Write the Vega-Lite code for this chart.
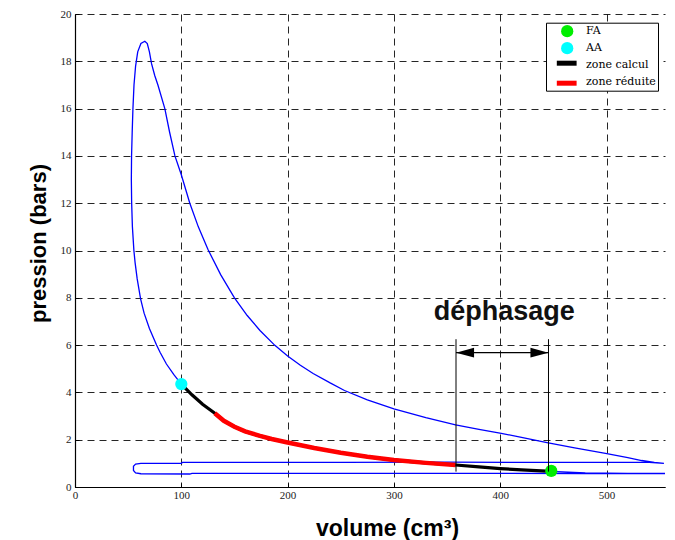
{
  "$schema": "https://vega.github.io/schema/vega-lite/v6.json",
  "autosize": {"type": "none"},
  "width": 590,
  "height": 473,
  "padding": {"left": 75, "top": 14, "right": 10, "bottom": 53},
  "background": "white",
  "config": {
    "view": {"stroke": null},
    "axis": {
      "grid": true,
      "gridDash": [7, 5],
      "gridColor": "#000000",
      "gridOpacity": 0.85,
      "gridWidth": 1,
      "domainColor": "#000000",
      "domainWidth": 1.2,
      "tickColor": "#000000",
      "tickSize": -4,
      "labelFont": "Liberation Serif",
      "labelFontSize": 11,
      "labelColor": "#222222",
      "labelFlush": false,
      "titleFont": "Liberation Sans",
      "titleFontWeight": "bold",
      "titleColor": "#000000"
    },
    "legend": {
      "labelFont": "DejaVu Serif", "labelFontSize": 11, "labelColor": "#000000", "symbolOpacity": 1
    }
  },
  "datasets": {
    "cycle": [
      {"i": 1, "v": 554, "p": 1.0}, {"i": 2, "v": 540, "p": 1.04}, {"i": 3, "v": 450, "p": 1.04}, {"i": 4, "v": 350, "p": 1.05},
      {"i": 5, "v": 250, "p": 1.04}, {"i": 6, "v": 150, "p": 1.04}, {"i": 7, "v": 101, "p": 1.04}, {"i": 8, "v": 100, "p": 1.0},
      {"i": 9, "v": 62, "p": 1.0}, {"i": 10, "v": 57, "p": 0.97}, {"i": 11, "v": 55, "p": 0.88}, {"i": 12, "v": 55, "p": 0.7},
      {"i": 13, "v": 57, "p": 0.6}, {"i": 14, "v": 62, "p": 0.56}, {"i": 15, "v": 108, "p": 0.55}, {"i": 16, "v": 110, "p": 0.58},
      {"i": 17, "v": 200, "p": 0.58}, {"i": 18, "v": 300, "p": 0.58}, {"i": 19, "v": 400, "p": 0.58}, {"i": 20, "v": 480, "p": 0.57},
      {"i": 21, "v": 555, "p": 0.57}, {"i": 22, "v": 520, "p": 0.58}, {"i": 23, "v": 480, "p": 0.6}, {"i": 24, "v": 448, "p": 0.66},
      {"i": 25, "v": 420, "p": 0.72}, {"i": 26, "v": 400, "p": 0.78}, {"i": 27, "v": 380, "p": 0.85}, {"i": 28, "v": 358, "p": 0.93},
      {"i": 29, "v": 330, "p": 1.02}, {"i": 30, "v": 300, "p": 1.14}, {"i": 31, "v": 275, "p": 1.28}, {"i": 32, "v": 250, "p": 1.45},
      {"i": 33, "v": 225, "p": 1.65}, {"i": 34, "v": 200, "p": 1.88}, {"i": 35, "v": 185, "p": 2.03}, {"i": 36, "v": 174, "p": 2.16},
      {"i": 37, "v": 160, "p": 2.35}, {"i": 38, "v": 150, "p": 2.55}, {"i": 39, "v": 140, "p": 2.8}, {"i": 40, "v": 131.5, "p": 3.12},
      {"i": 41, "v": 120, "p": 3.5}, {"i": 42, "v": 110, "p": 3.9}, {"i": 43, "v": 100, "p": 4.35}, {"i": 44, "v": 93, "p": 4.75},
      {"i": 45, "v": 86, "p": 5.2}, {"i": 46, "v": 80, "p": 5.7}, {"i": 47, "v": 76.7, "p": 6.0}, {"i": 48, "v": 70, "p": 6.7},
      {"i": 49, "v": 65, "p": 7.35}, {"i": 50, "v": 61.7, "p": 7.95}, {"i": 51, "v": 58.5, "p": 8.8}, {"i": 52, "v": 56.5, "p": 9.5},
      {"i": 53, "v": 55.4, "p": 10}, {"i": 54, "v": 54, "p": 11}, {"i": 55, "v": 53.3, "p": 12}, {"i": 56, "v": 53, "p": 13},
      {"i": 57, "v": 53.2, "p": 14}, {"i": 58, "v": 53.8, "p": 15}, {"i": 59, "v": 54.5, "p": 16}, {"i": 60, "v": 55.5, "p": 17},
      {"i": 61, "v": 57, "p": 17.8}, {"i": 62, "v": 59, "p": 18.4}, {"i": 63, "v": 62, "p": 18.75}, {"i": 64, "v": 65.7, "p": 18.85},
      {"i": 65, "v": 68, "p": 18.75}, {"i": 66, "v": 70, "p": 18.4}, {"i": 67, "v": 72, "p": 17.9}, {"i": 68, "v": 75, "p": 17.4},
      {"i": 69, "v": 78, "p": 17.0}, {"i": 70, "v": 84.5, "p": 16}, {"i": 71, "v": 89, "p": 15}, {"i": 72, "v": 94, "p": 14},
      {"i": 73, "v": 100, "p": 13.2}, {"i": 74, "v": 108, "p": 12}, {"i": 75, "v": 116, "p": 11}, {"i": 76, "v": 125, "p": 10.05},
      {"i": 77, "v": 137, "p": 8.98}, {"i": 78, "v": 150, "p": 8.0}, {"i": 79, "v": 162, "p": 7.25}, {"i": 80, "v": 174, "p": 6.62},
      {"i": 81, "v": 188, "p": 5.99}, {"i": 82, "v": 200, "p": 5.54}, {"i": 83, "v": 212, "p": 5.15}, {"i": 84, "v": 224, "p": 4.8},
      {"i": 85, "v": 240, "p": 4.4}, {"i": 86, "v": 253.5, "p": 4.08}, {"i": 87, "v": 275, "p": 3.68}, {"i": 88, "v": 300, "p": 3.3},
      {"i": 89, "v": 330, "p": 2.93}, {"i": 90, "v": 358, "p": 2.63}, {"i": 91, "v": 380, "p": 2.44}, {"i": 92, "v": 401, "p": 2.27},
      {"i": 93, "v": 420, "p": 2.1}, {"i": 94, "v": 444, "p": 1.88}, {"i": 95, "v": 470, "p": 1.65}, {"i": 96, "v": 499, "p": 1.42},
      {"i": 97, "v": 520, "p": 1.24}, {"i": 98, "v": 533, "p": 1.12}, {"i": 99, "v": 545, "p": 1.04}, {"i": 100, "v": 554, "p": 1.0}
    ],
    "calcul": [
      {"s": "zone calcul", "i": 1, "v": 448, "p": 0.66}, {"s": "zone calcul", "i": 2, "v": 420, "p": 0.72},
      {"s": "zone calcul", "i": 3, "v": 400, "p": 0.78}, {"s": "zone calcul", "i": 4, "v": 380, "p": 0.85},
      {"s": "zone calcul", "i": 5, "v": 358, "p": 0.93}, {"s": "zone calcul", "i": 6, "v": 330, "p": 1.02},
      {"s": "zone calcul", "i": 7, "v": 300, "p": 1.14}, {"s": "zone calcul", "i": 8, "v": 275, "p": 1.28},
      {"s": "zone calcul", "i": 9, "v": 250, "p": 1.45}, {"s": "zone calcul", "i": 10, "v": 225, "p": 1.65},
      {"s": "zone calcul", "i": 11, "v": 200, "p": 1.88}, {"s": "zone calcul", "i": 12, "v": 185, "p": 2.03},
      {"s": "zone calcul", "i": 13, "v": 174, "p": 2.16}, {"s": "zone calcul", "i": 14, "v": 160, "p": 2.35},
      {"s": "zone calcul", "i": 15, "v": 150, "p": 2.55}, {"s": "zone calcul", "i": 16, "v": 140, "p": 2.8},
      {"s": "zone calcul", "i": 17, "v": 131.5, "p": 3.12}, {"s": "zone calcul", "i": 18, "v": 120, "p": 3.5},
      {"s": "zone calcul", "i": 19, "v": 110, "p": 3.9}, {"s": "zone calcul", "i": 20, "v": 100, "p": 4.35}
    ],
    "reduite": [
      {"s": "zone réduite", "i": 1, "v": 358, "p": 0.93}, {"s": "zone réduite", "i": 2, "v": 330, "p": 1.02},
      {"s": "zone réduite", "i": 3, "v": 300, "p": 1.14}, {"s": "zone réduite", "i": 4, "v": 275, "p": 1.28},
      {"s": "zone réduite", "i": 5, "v": 250, "p": 1.45}, {"s": "zone réduite", "i": 6, "v": 225, "p": 1.65},
      {"s": "zone réduite", "i": 7, "v": 200, "p": 1.88}, {"s": "zone réduite", "i": 8, "v": 185, "p": 2.03},
      {"s": "zone réduite", "i": 9, "v": 174, "p": 2.16}, {"s": "zone réduite", "i": 10, "v": 160, "p": 2.35},
      {"s": "zone réduite", "i": 11, "v": 150, "p": 2.55}, {"s": "zone réduite", "i": 12, "v": 140, "p": 2.8},
      {"s": "zone réduite", "i": 13, "v": 131.5, "p": 3.12}
    ],
    "pts": [
      {"s": "FA", "v": 448, "p": 0.68},
      {"s": "AA", "v": 100, "p": 4.35}
    ],
    "vlines": [
      {"v": 358.4, "p0": 0.65, "p1": 6.25},
      {"v": 445.4, "p0": 0.65, "p1": 6.25}
    ],
    "arrow": [
      {"v0": 358.4, "v1": 445.4, "p": 5.68}
    ],
    "heads": [
      {"dir": "L", "v": 366.9, "p": 5.68},
      {"dir": "R", "v": 436.9, "p": 5.68}
    ],
    "label": [
      {"t": "déphasage", "v": 403.8, "p": 7.06}
    ]
  },
  "encoding": {
    "x": {"field": "v", "type": "quantitative", "scale": {"domain": [0, 555], "nice": false},
          "axis": {"values": [0, 100, 200, 300, 400, 500], "title": "volume (cm³)", "titleFontSize": 23,
                   "titleX": 312, "titleY": 48, "titleBaseline": "alphabetic", "titleAlign": "center", "labelPadding": 6}},
    "y": {"field": "p", "type": "quantitative", "scale": {"domain": [0, 20], "nice": false},
          "axis": {"values": [0, 2, 4, 6, 8, 10, 12, 14, 16, 18, 20], "title": "pression (bars)", "titleFontSize": 22,
                   "titlePadding": 10, "titleY": 229, "labelPadding": 8}}
  },
  "layer": [
    {
      "data": {"name": "cycle"},
      "mark": {"type": "line", "color": "#0000ff", "strokeWidth": 1.3},
      "encoding": {"order": {"field": "i", "type": "quantitative"}}
    },
    {
      "data": {"name": "pts"},
      "mark": {"type": "point", "filled": true, "size": 0, "opacity": 1},
      "encoding": {
        "fill": {"field": "s", "type": "nominal",
          "scale": {"domain": ["FA", "AA", "zone calcul", "zone réduite"], "range": ["#00ee00", "#00ffff", "transparent", "transparent"]},
          "legend": {
            "title": null,
            "orient": "none", "legendX": 471, "legendY": 8.7,
            "strokeColor": "#000000", "fillColor": "#ffffff", "padding": 2,
            "symbolType": "circle", "symbolSize": 150, "symbolStrokeWidth": 0,
            "rowPadding": 4, "symbolOffset": 12.7, "labelOffset": 12.3
          }
        }
      }
    },
    {
      "data": {"name": "calcul"},
      "mark": {"type": "line", "strokeWidth": 3.2, "opacity": 1},
      "encoding": {
        "order": {"field": "i", "type": "quantitative"},
        "stroke": {"field": "s", "type": "nominal",
          "scale": {"domain": ["zone calcul", "zone réduite"], "range": ["#000000", "#ff0000"]},
          "legend": {
            "title": null, "orient": "none", "legendX": 483.7, "legendY": 41.2,
            "padding": 0, "symbolType": "M-1.8,0L1.8,0", "symbolSize": 121, "symbolStrokeWidth": 5,
            "symbolOffset": 0, "rowPadding": 0, "labelOpacity": 0, "labelExpr": "''"
          }
        }
      }
    },
    {
      "data": {"name": "reduite"},
      "mark": {"type": "line", "strokeWidth": 4.5, "opacity": 1},
      "encoding": {
        "order": {"field": "i", "type": "quantitative"},
        "stroke": {"field": "s", "type": "nominal"}
      }
    },
    {
      "data": {"name": "pts"},
      "mark": {"type": "point", "filled": true, "size": 150, "opacity": 1},
      "encoding": {
        "fill": {"field": "s", "type": "nominal"}
      }
    },
    {
      "data": {"name": "vlines"},
      "mark": {"type": "rule", "color": "#000000", "strokeWidth": 1},
      "encoding": {
        "y": {"field": "p0", "type": "quantitative"},
        "y2": {"field": "p1"}
      }
    },
    {
      "data": {"name": "arrow"},
      "mark": {"type": "rule", "color": "#000000", "strokeWidth": 1.2},
      "encoding": {
        "x": {"field": "v0", "type": "quantitative"},
        "x2": {"field": "v1"}
      }
    },
    {
      "data": {"name": "heads"},
      "mark": {"type": "point", "filled": true, "color": "#000000", "opacity": 1, "size": 324},
      "encoding": {
        "shape": {"field": "dir", "type": "nominal",
          "scale": {"domain": ["L", "R"], "range": ["M-1,0L1,-0.55L1,0.55Z", "M1,0L-1,-0.55L-1,0.55Z"]},
          "legend": null}
      }
    },
    {
      "data": {"name": "label"},
      "mark": {"type": "text", "font": "Liberation Sans", "fontSize": 27, "fontWeight": "bold", "align": "center", "baseline": "alphabetic", "color": "#111111"},
      "encoding": {"text": {"field": "t"}}
    }
  ]
}
